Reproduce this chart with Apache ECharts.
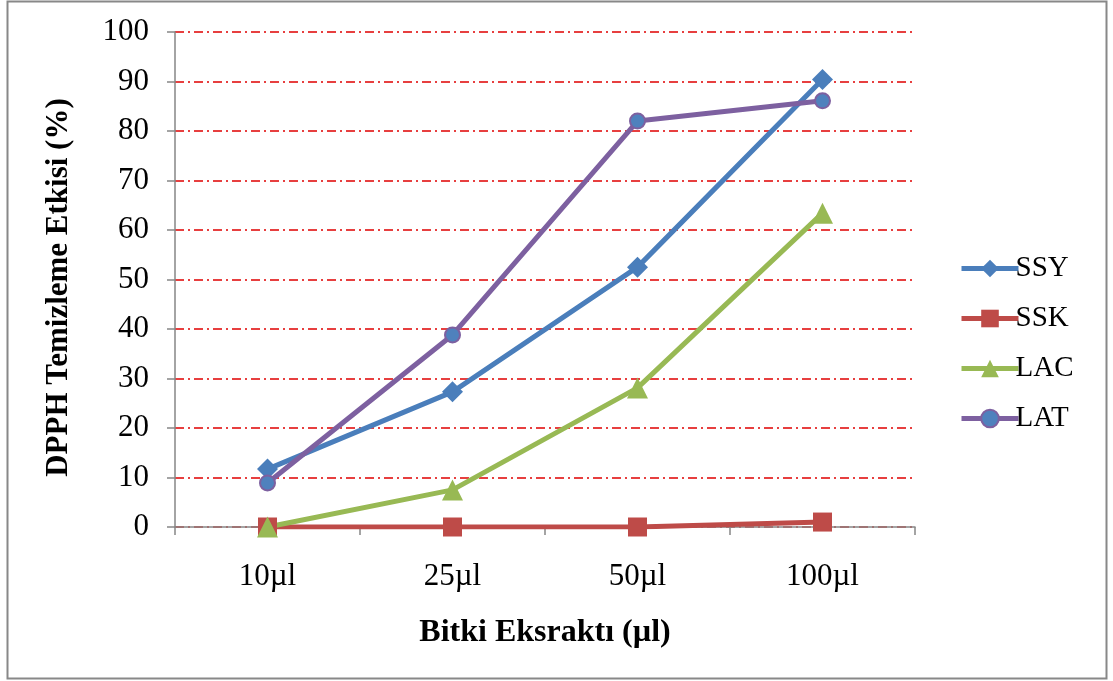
<!DOCTYPE html>
<html>
<head>
<meta charset="utf-8">
<script src="https://cdn.jsdelivr.net/npm/echarts@6/dist/echarts.min.js"></script>
<style>
  html, body { margin: 0; padding: 0; background: #fff; }
  #chart { width: 1113px; height: 681px; }
</style>
</head>
<body>
<div id="chart"></div>
<script>
// Extract volumes on the x axis
const categories = ['10µl', '25µl', '50µl', '100µl'];

// DPPH scavenging effect (%) per sample
const ssy = [11.7, 27.3, 52.5, 90.4];
const ssk = [0, 0, 0, 1.0];
const lac = [0, 7.5, 28.1, 63.4];
const lat = [8.9, 38.8, 82.0, 86.1];

const yTicks = { min: 0, max: 100, interval: 10 };

const FONT = '"Liberation Serif", "Times New Roman", serif';

const chart = echarts.init(document.getElementById('chart'));

function lineSeries(name, data, color, symbol, size, fill, border) {
  return {
    name: name,
    type: 'line',
    data: data,
    symbol: symbol,
    symbolSize: size,
    showAllSymbol: true,
    lineStyle: { color: color, width: 5 },
    itemStyle: {
      color: fill || color,
      borderColor: border || color,
      borderWidth: border ? 2 : 0
    },
    emphasis: { disabled: true },
    z: 3
  };
}

chart.setOption({
  animation: false,
  backgroundColor: '#fff',
  graphic: [{
    type: 'rect',
    shape: { x: 7.5, y: 1.5, width: 1099, height: 677 },
    style: { fill: 'none', stroke: '#888', lineWidth: 2 },
    silent: true,
    z: -1
  }],
  grid: { left: 175, right: 198, top: 32, bottom: 154 },
  legend: {
    orient: 'vertical',
    left: 954,
    top: 249,
    itemWidth: 57,
    itemHeight: 22,
    itemGap: 21,
    lineStyle: { width: 5 },
    textStyle: { fontFamily: FONT, fontSize: 29, color: '#000', padding: [0, 0, 0, -8] },
    data: ['SSY', 'SSK', 'LAC', 'LAT']
  },
  xAxis: {
    type: 'category',
    data: categories,
    boundaryGap: true,
    name: 'Bitki Eksraktı (µl)',
    nameLocation: 'middle',
    nameGap: 90,
    nameTextStyle: { fontFamily: FONT, fontSize: 32, fontWeight: 'bold', color: '#000' },
    axisLine: { lineStyle: { color: '#868686', width: 1.5 } },
    axisTick: { show: true, length: 8, alignWithLabel: false, lineStyle: { color: '#868686', width: 1.5 } },
    axisLabel: { fontFamily: FONT, fontSize: 31, color: '#000', margin: 34 },
    splitLine: { show: false }
  },
  yAxis: {
    type: 'value',
    min: yTicks.min,
    max: yTicks.max,
    interval: yTicks.interval,
    name: 'DPPH Temizleme Etkisi (%)',
    nameLocation: 'middle',
    nameGap: 101,
    nameTextStyle: { fontFamily: FONT, fontSize: 31, fontWeight: 'bold', color: '#000', padding: [0, 16, 0, 0] },
    axisLine: { show: true, lineStyle: { color: '#868686', width: 1.5 } },
    axisTick: { show: true, length: 8, lineStyle: { color: '#868686', width: 1.5 } },
    axisLabel: { fontFamily: FONT, fontSize: 31, color: '#000', margin: 26 },
    splitLine: {
      show: true,
      lineStyle: { color: '#e00000', width: 1.5, type: [9, 4, 2, 4] }
    }
  },
  series: [
    lineSeries('SSY', ssy, '#4a7ebb', 'diamond', 21),
    lineSeries('SSK', ssk, '#be4b48', 'rect', 19),
    lineSeries('LAC', lac, '#98b954', 'triangle', 21),
    lineSeries('LAT', lat, '#7d60a0', 'circle', 15, '#4f81bd', '#7d60a0')
  ]
});
</script>
</body>
</html>
